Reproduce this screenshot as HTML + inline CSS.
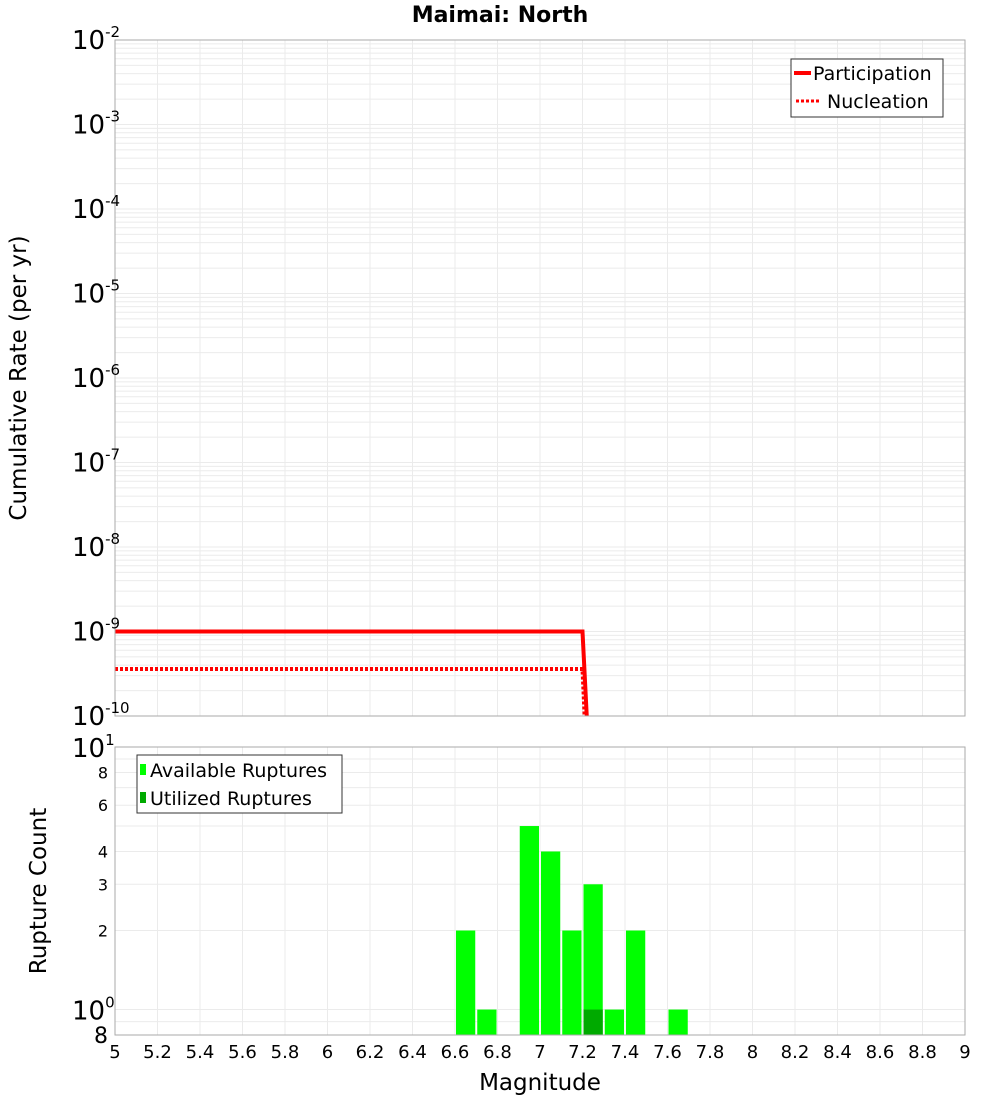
<!DOCTYPE html>
<html><head><meta charset="utf-8"><style>
body{margin:0;background:#fff;font-family:"Liberation Sans","DejaVu Sans",sans-serif}
svg text{font-family:"DejaVu Sans","Liberation Sans",sans-serif}
</style></head><body>
<svg id="c" width="1000" height="1100" xmlns="http://www.w3.org/2000/svg">
<text x="500" y="22" text-anchor="middle" font-size="22" font-weight="bold">Maimai: North</text>
<text transform="translate(26,378) rotate(-90)" text-anchor="middle" font-size="23">Cumulative Rate (per yr)</text>
<text transform="translate(46,891) rotate(-90)" text-anchor="middle" font-size="23">Rupture Count</text>
<text x="540" y="1090" text-anchor="middle" font-size="23">Magnitude</text>
<g id="g"></g>
</svg>
<script>
const partMags=[5,7.2,7.22];
const partRates=[1e-9,1e-9,1e-10];
const nuclMags=[5,7.2,7.21];
const nuclRates=[3.6e-10,3.6e-10,1e-10];
const binCenters=[6.65,6.75,6.95,7.05,7.15,7.25,7.35,7.45,7.65];
const availCounts=[2,1,5,4,2,3,1,2,1];
const utilCenters=[7.25];
const utilCounts=[1];
const xTicks=[5,5.2,5.4,5.6,5.8,6,6.2,6.4,6.6,6.8,7,7.2,7.4,7.6,7.8,8,8.2,8.4,8.6,8.8,9];
const topExps=[-2,-3,-4,-5,-6,-7,-8,-9,-10];
const botTicks=[8,6,4,3,2];

const NS="http://www.w3.org/2000/svg",G=document.getElementById('g');
const L=115,R=965,T1=40,B1=716,T2=747,B2=1035;
const X=m=>L+(m-5)/4*(R-L);
const Y1=v=>B1-(Math.log10(v)+10)/8*(B1-T1);
const Y2=v=>B2-(Math.log10(v)-Math.log10(0.8))/Math.log10(12.5)*(B2-T2);
function mk(t,a,name,txt){const e=document.createElementNS(NS,t);for(const k in a)e.setAttribute(k,a[k]);


if(txt!==undefined)e.textContent=txt;G.appendChild(e);return e;}
mk('rect',{x:L,y:T1,width:R-L,height:B1-T1,fill:'#fff'},'top-plot-area');
mk('rect',{x:L,y:T2,width:R-L,height:B2-T2,fill:'#fff'},'bottom-plot-area');
xTicks.forEach(m=>{
mk('line',{x1:X(m),x2:X(m),y1:T1,y2:B1,stroke:'#ebebeb'},'top-grid-x');
mk('line',{x1:X(m),x2:X(m),y1:T2,y2:B2,stroke:'#ebebeb'},'bottom-grid-x');});
for(let e=-10;e<-2;e++)for(let k=1;k<10;k++){const y=Y1(k*Math.pow(10,e));
mk('line',{x1:L,x2:R,y1:y,y2:y,stroke:'#ebebeb'},'top-grid-y');}
[0.8,0.9,1,2,3,4,5,6,7,8,9,10].forEach(v=>{const y=Y2(v);
mk('line',{x1:L,x2:R,y1:y,y2:y,stroke:'#ebebeb'},'bottom-grid-y');});
function path(ms,rs){return ms.map((m,i)=>(i?'L':'M')+X(m)+','+Y1(rs[i])).join('');}
mk('path',{d:path(nuclMags,nuclRates),stroke:'#f00','stroke-width':4,fill:'none','stroke-dasharray':'3,2'},'nucleation-line');
mk('path',{d:path(partMags,partRates),stroke:'#f00','stroke-width':4,fill:'none'},'participation-line');
const bw=(X(5.1)-X(5))-2;
binCenters.forEach((c,i)=>{const x=X(c)-bw/2;
mk('rect',{x:x,y:Y2(availCounts[i]),width:bw,height:B2-Y2(availCounts[i]),fill:'#00ff00'},'available-bar');});
utilCenters.forEach((c,i)=>{const x=X(c)-bw/2;
mk('rect',{x:x,y:Y2(utilCounts[i]),width:bw,height:B2-Y2(utilCounts[i]),fill:'#00aa00'},'utilized-bar');});
mk('rect',{x:L,y:T1,width:R-L,height:B1-T1,fill:'none',stroke:'#aaa'},'top-frame');
mk('rect',{x:L,y:T2,width:R-L,height:B2-T2,fill:'none',stroke:'#aaa'},'bottom-frame');
xTicks.forEach(m=>mk('text',{x:X(m),y:1058,'text-anchor':'middle','font-size':18},'x-tick-label',String(m)));
topExps.forEach(e=>{const y=Y1(Math.pow(10,e));
const t=mk('text',{x:72,y:y+9,'font-size':26},'top-y-tick-label');
t.appendChild(document.createTextNode('10'));
const s=document.createElementNS(NS,'tspan');s.setAttribute('dy','-12');s.setAttribute('font-size','15');s.textContent=String(e);t.appendChild(s);});
[[10,'1'],[1,'0']].forEach(([v,e])=>{const y=Y2(v);
const t=mk('text',{x:72,y:y+10,'font-size':26},'bottom-y-tick-label','10');
const s=document.createElementNS(NS,'tspan');s.setAttribute('dy','-12');s.setAttribute('font-size','15');s.textContent=e;t.appendChild(s);});
botTicks.forEach(v=>mk('text',{x:108,y:Y2(v)+6,'text-anchor':'end','font-size':16},'bottom-y-tick-label',String(v)));
mk('text',{x:108,y:Y2(0.8)+8,'text-anchor':'end','font-size':22},'bottom-y-tick-label','8');
mk('rect',{x:791,y:59,width:152,height:58,fill:'#fff',stroke:'#333'},'top-legend');
mk('line',{x1:794,x2:811,y1:73,y2:73,stroke:'#f00','stroke-width':4},'legend-participation-swatch');
mk('text',{x:813,y:80,'font-size':19},'legend-participation-label','Participation');
mk('line',{x1:796,x2:820,y1:101,y2:101,stroke:'#f00','stroke-width':3,'stroke-dasharray':'3,2'},'legend-nucleation-swatch');
mk('text',{x:827,y:108,'font-size':19},'legend-nucleation-label','Nucleation');
mk('rect',{x:137,y:755,width:205,height:58,fill:'#fff',stroke:'#333'},'bottom-legend');
mk('rect',{x:140,y:764,width:6,height:11,fill:'#00ff00'},'legend-available-swatch');
mk('text',{x:150,y:777,'font-size':19},'legend-available-label','Available Ruptures');
mk('rect',{x:140,y:792,width:6,height:11,fill:'#00aa00'},'legend-utilized-swatch');
mk('text',{x:150,y:805,'font-size':19},'legend-utilized-label','Utilized Ruptures');
</script>
</body></html>
